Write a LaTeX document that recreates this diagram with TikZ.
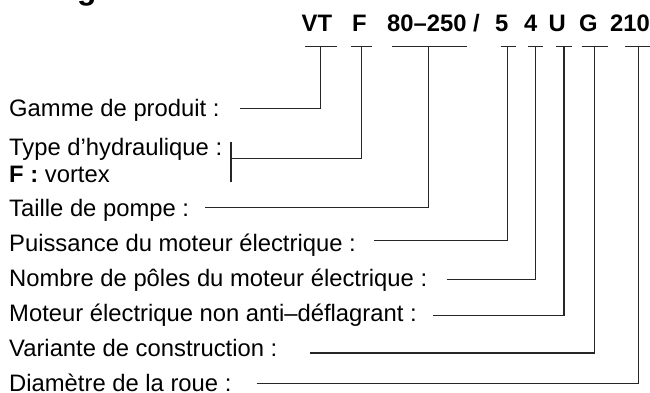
\documentclass[tikz,border=0pt]{standalone}
\usepackage{fontspec}
\setmainfont{Liberation Sans}
\begin{document}
\begin{tikzpicture}[x=1pt,y=-1pt,
  lbl/.style={anchor=base west,inner sep=0pt,font=\fontsize{23.8}{24}\selectfont},
  code/.style={anchor=base west,inner sep=0pt,font=\fontsize{23.8}{24}\selectfont\bfseries},
  conn/.style={line width=1.1pt,draw=black!85}]
\useasboundingbox (0,0) rectangle (650,393);
\begin{scope}
\clip (0,0) rectangle (650,393);
% partially visible heading
\node[anchor=base west,inner sep=0pt,font=\fontsize{31.7}{32}\selectfont\bfseries] (title) at (10,0) {Désignation};
% code
\node[code] (cVT) at (301.5,31.6) {VT};
\node[code] (cF) at (352,31.6) {F};
\node[code] (cS) at (387,31.6) {80–250};
\node[code] (cSl) at (473,31.6) {/};
\node[code] (cP) at (494.8,31.6) {5};
\node[code] (cN) at (523.8,31.6) {4};
\node[code] (cU) at (548.3,31.6) {U};
\node[code] (cG) at (579,31.6) {G};
\node[code] (cD) at (610,31.6) {210};
% tick tops
\coordinate (t1) at (320.7,46.5);
\coordinate (t2) at (361.7,46.5);
\coordinate (t3) at (428.3,46.5);
\coordinate (t4) at (507.7,46.5);
\coordinate (t5) at (535.7,46.5);
\coordinate (t6) at (564,46.5);
\coordinate (t7) at (594.3,46.5);
\coordinate (t8) at (638.3,46.5);
\draw[conn] (305,46.5) -- (337,46.5);
\draw[conn] (351,46.5) -- (372,46.5);
\draw[conn] (391.7,46.5) -- (466.7,46.5);
\draw[conn] (500.7,46.5) -- (515.7,46.5);
\draw[conn] (527.7,46.5) -- (543.3,46.5);
\draw[conn] (556,46.5) -- (571.7,46.5);
\draw[conn] (581.7,46.5) -- (607.7,46.5);
\draw[conn] (625,46.5) -- (652,46.5);
% labels
\node[lbl] (l1) at (9,117) {Gamme de produit :};
\node[lbl] (l2) at (9,155.5) {Type d’hydraulique :};
\node[lbl] (l2b) at (9,182) {\textbf{F :} vortex};
\node[lbl] (l3) at (9,216.8) {Taille de pompe :};
\node[lbl] (l4) at (9,251.8) {Puissance du moteur électrique :};
\node[lbl] (l5) at (9,286.8) {Nombre de pôles du moteur électrique :};
\node[lbl] (l6) at (9,321.8) {Moteur électrique non anti–déflagrant :};
\node[lbl] (l7) at (9,356.8) {Variante de construction :};
\node[lbl] (l8) at (9,391.8) {Diamètre de la roue :};
% line starts
\coordinate (s1) at (240,108.3);
\coordinate (bT) at (231,141.7);
\coordinate (bB) at (231,181.7);
\coordinate (s2) at (232,158.3);
\coordinate (s3) at (205,207.7);
\coordinate (s4) at (374.3,240.7);
\coordinate (s5) at (446.7,279.3);
\coordinate (s6) at (433.3,315.3);
\coordinate (s7) at (310,353);
\coordinate (s8) at (256.7,383.8);
% connectors
\draw[conn] (bT) -- (bB);
\draw[conn] (s1) -| (t1);
\draw[conn] (s2) -| (t2);
\draw[conn] (s3) -| (t3);
\draw[conn] (s4) -| (t4);
\draw[conn] (s5) -| (t5);
\draw[conn] (s6) -| (t6);
\draw[conn] (s7) -| (t7);
\draw[conn] (s8) -| (t8);
\end{scope}
\end{tikzpicture}
\end{document}
